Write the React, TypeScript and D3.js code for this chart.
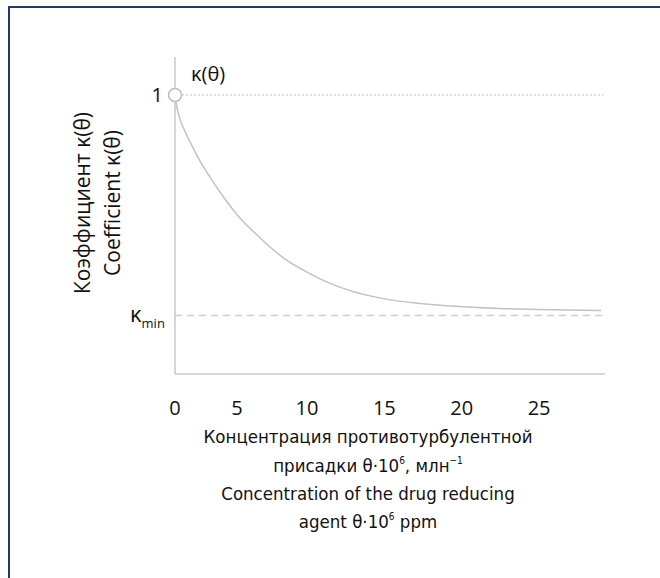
import React from "react";
import * as d3 from "d3";

// curve: theta (x) and kappa (y)
const theta = [0, 0.12, 0.32, 0.65, 1.21, 2.02, 2.98, 4.03, 5.21, 6.29, 7.36, 8.57, 9.71, 10.84, 11.94, 12.97, 14.07, 15.69, 17.3, 19.24, 22.47, 25.7, 29.0];
const kappa = [1.0, 0.964, 0.925, 0.885, 0.832, 0.763, 0.695, 0.627, 0.559, 0.505, 0.455, 0.407, 0.373, 0.341, 0.315, 0.296, 0.28, 0.263, 0.253, 0.244, 0.235, 0.23, 0.228];
const xTicks = [0, 5, 10, 15, 20, 25];
const kappaMin = 0.21;
const kappaOne = 1;

const W = 660;
const H = 578;

// tick spacing in the original is uneven, so the scale is piecewise
const x = d3.scaleLinear().domain([0, 5, 10, 29]).range([175, 237, 307, 601]);
const y = d3.scaleLinear().domain([0, 1]).range([374, 95]);

const font = "'Open Sans', 'Noto Sans', sans-serif";
const narrow = "'DejaVu Sans Condensed', sans-serif";

export default function App() {
  const curve = d3
    .line<number>()
    .x((d) => x(d))
    .y((d, i) => y(kappa[i]))
    .curve(d3.curveMonotoneX)(theta);

  const x0 = x(0);
  const xEnd = x(29);

  return (
    <svg
      width={W}
      height={H}
      style={{ position: "absolute", left: 0, top: 0, background: "#fff" }}
      fontFamily={font}
    >
      <rect x={9} y={7} width={700} height={700} fill="none" stroke="#1f3a64" strokeWidth={2} />

      {/* axes */}
      <line x1={x0} x2={x0} y1={57} y2={y(0)} stroke="#c8c8c8" strokeWidth={1.5} />
      <line x1={x0} x2={xEnd + 4} y1={y(0)} y2={y(0)} stroke="#c8c8c8" strokeWidth={1.5} />

      {/* reference lines */}
      <line x1={x0 + 7} x2={xEnd + 2} y1={y(kappaOne)} y2={y(kappaOne)} stroke="#bdbdbd" strokeWidth={1} strokeDasharray="2,2" />
      <line x1={x0} x2={xEnd + 2} y1={y(kappaMin)} y2={y(kappaMin)} stroke="#cfcfcf" strokeWidth={1.5} strokeDasharray="7,5" />

      <path d={curve ?? ""} fill="none" stroke="#c2c2c2" strokeWidth={1.5} />
      <circle cx={x0} cy={y(kappaOne)} r={6.5} fill="#fff" stroke="#bdbdbd" strokeWidth={1.5} />

      {xTicks.map((t) => (
        <text key={t} x={x(t)} y={415} textAnchor="middle" fontSize={20} fill="#111">
          {t}
        </text>
      ))}

      <text x={163} y={102} textAnchor="end" fontSize={20} fill="#111">1</text>
      <text x={191} y={81} fontSize={20} fill="#111">κ(θ)</text>
      <text x={130} y={322} fontSize={22} fill="#111">
        κ<tspan fontSize={13} dy={6}>min</tspan>
      </text>

      <g transform="translate(90,203) rotate(-90)">
        <text x={0} y={0} textAnchor="middle" fontSize={21} fill="#111">Коэффициент κ(θ)</text>
        <text x={0} y={30} textAnchor="middle" fontSize={21} fill="#111">Coefficient κ(θ)</text>
      </g>

      <g fontSize={18.5} fill="#111" textAnchor="middle" fontFamily={narrow}>
        <text x={368} y={443}>Концентрация противотурбулентной</text>
        <text x={368} y={472}>
          присадки θ·10<tspan fontSize={10} dy={-8}>6</tspan>
          <tspan dy={8}>, млн</tspan>
          <tspan fontSize={10} dy={-8}>−1</tspan>
        </text>
        <text x={368} y={500}>Concentration of the drug reducing</text>
        <text x={368} y={528}>
          agent θ·10<tspan fontSize={10} dy={-8}>6</tspan>
          <tspan dy={8}> ppm</tspan>
        </text>
      </g>
    </svg>
  );
}
